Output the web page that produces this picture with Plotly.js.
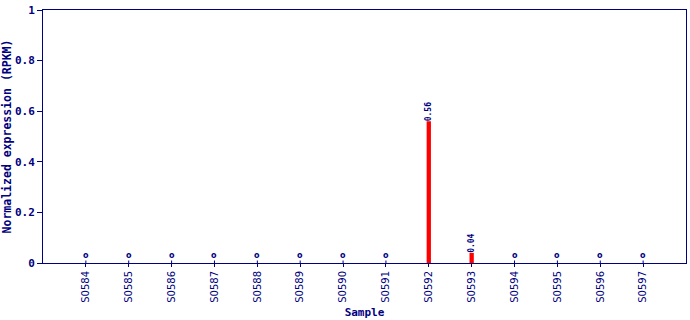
<!DOCTYPE html>
<html><head><meta charset="utf-8">
<script src="https://cdn.plot.ly/plotly-3.0.1.min.js"></script>
<style>body{margin:0;padding:0;background:#fff}#chart{width:690px;height:320px}</style>
</head><body><div id="chart"></div>
<script>
const samples = ["S0584","S0585","S0586","S0587","S0588","S0589","S0590","S0591","S0592","S0593","S0594","S0595","S0596","S0597"];
const values = [0,0,0,0,0,0,0,0,0.56,0.04,0,0,0,0];
const valueLabels = ["","","","","","","","","0.56","0.04","","","",""];

const navy = "#000080";
const mono = "DejaVu Sans Mono";

const bar = {
  type: "bar", x: samples, y: values, width: 0.1,
  marker: {color: "#ff0000"},
  text: valueLabels, texttemplate: "<b>%{text}</b>", textposition: "outside", textangle: -90, constraintext: "none",
  textfont: {family: mono, size: 8, color: navy},
  cliponaxis: false, hoverinfo: "skip"
};

const annotations = [];
samples.forEach((s, i) => {
  if (values[i] === 0) {
    annotations.push({x: s, y: 0, xref: "x", yref: "y", text: "<b>o</b>",
      font: {family: "DejaVu Sans", size: 8, color: navy},
      showarrow: true, arrowhead: 0, arrowwidth: 1, arrowcolor: navy,
      ax: 0, ay: -7.5, standoff: 0, startstandoff: 0, borderpad: 0});
  }
});

const layout = {
  width: 690, height: 320,
  margin: {l: 43, r: 4, t: 10, b: 57},
  paper_bgcolor: "#fff", plot_bgcolor: "#fff",
  showlegend: false,
  xaxis: {
    type: "category", range: [-1, 14],
    showline: true, linecolor: navy, linewidth: 1, mirror: true,
    ticks: "outside", ticklen: 3, tickcolor: navy,
    tickangle: -90, tickfont: {family: "DejaVu Sans", size: 10, color: navy},
    showgrid: false, zeroline: false,
    title: {text: "<b>Sample</b>", font: {family: mono, size: 11, color: navy}, standoff: 6}
  },
  yaxis: {
    range: [0, 1], tickvals: [0, 0.2, 0.4, 0.6, 0.8, 1], ticktext: ["<b>0</b>","<b>0.2</b>","<b>0.4</b>","<b>0.6</b>","<b>0.8</b>","<b>1</b>"],
    showline: true, linecolor: navy, linewidth: 1, mirror: true,
    ticks: "outside", ticklen: 5, tickcolor: navy,
    tickfont: {family: mono, size: 11, color: navy},
    showgrid: false, zeroline: false,
    title: {text: "<b>Normalized expression (RPKM)</b>", font: {family: mono, size: 11.5, color: navy}, standoff: 4}
  },
  annotations: annotations
};

Plotly.newPlot("chart", [bar], layout, {staticPlot: true, displayModeBar: false});
</script>
</body></html>
